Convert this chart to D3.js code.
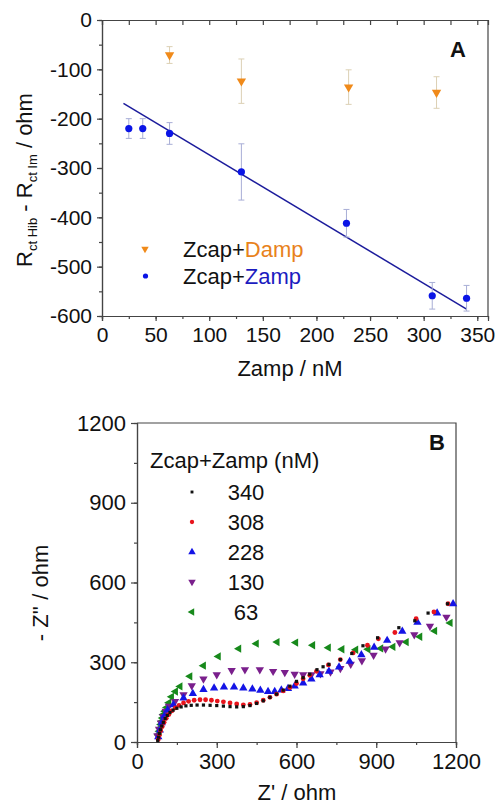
<!DOCTYPE html>
<html>
<head>
<meta charset="utf-8">
<script src="https://cdn.jsdelivr.net/npm/d3@7"></script>
<style>
body { margin: 0; background: #fff; }
text { font-family: "Liberation Sans", Arial, sans-serif; fill: #111; }
</style>
</head>
<body>
<svg width="496" height="804"></svg>
<script>
// ---- panel A data ----
var zampX = [25, 38, 63, 130, 228, 308, 340];
var zampR = [-220, -220, -230, -308, -412, -559, -564];
var zampErr = [20, 20, 22, 57, 28, 27, 26];
var dampX = [63, 130, 230, 312];
var dampR = [-71, -124, -136, -147];
var dampErr = [17, 45, 35, 32];
var fitX = [20, 340];
var fitY = [-169, -586];
var ticksAx = [0, 50, 100, 150, 200, 250, 300, 350];
var ticksAy = [0, -100, -200, -300, -400, -500, -600];

// ---- panel B data (Nyquist) ----
var conc = ["340", "308", "228", "130", "63"];
var z340re = [78, 81, 84, 88, 93, 99, 106, 114, 124, 136, 150, 166, 184, 204, 226, 250, 275, 300, 325, 350, 375, 400, 425, 450, 475, 500, 525, 550, 575, 600, 625, 650, 677, 700, 722, 765, 808, 850, 905, 985, 1045, 1095, 1168];
var z340im = [5, 18, 32, 46, 60, 74, 88, 100, 111, 120, 127, 132, 136, 138, 139, 139, 138, 137, 135, 133, 132, 133, 137, 145, 155, 168, 180, 195, 210, 228, 242, 255, 272, 283, 292, 310, 333, 362, 392, 430, 456, 485, 520];
var z308re = [80, 84, 89, 95, 102, 110, 120, 131, 144, 158, 175, 194, 215, 237, 258, 280, 302, 325, 350, 375, 400, 425, 450, 475, 500, 525, 550, 575, 600, 625, 650, 675, 720, 765, 813, 867, 908, 970, 1050, 1117, 1170];
var z308im = [9, 25, 42, 58, 74, 89, 103, 117, 128, 138, 147, 153, 157, 159, 159, 157, 154, 151, 147, 143, 140, 141, 148, 157, 168, 180, 192, 205, 220, 238, 251, 266, 290, 310, 335, 364, 388, 412, 464, 489, 520];
var z228re = [80, 86, 93, 102, 115, 137, 175, 210, 250, 290, 327, 365, 400, 434, 464, 493, 518, 543, 568, 593, 625, 656, 687, 722, 760, 800, 844, 892, 941, 998, 1055, 1129, 1189];
var z228im = [19, 45, 72, 97, 120, 140, 165, 182, 197, 203, 207, 207, 203, 199, 194, 190, 190, 195, 201, 210, 222, 237, 253, 266, 282, 303, 328, 356, 382, 416, 450, 485, 520];
var z130re = [77, 83, 90, 98, 108, 120, 143, 175, 206, 250, 300, 356, 406, 462, 512, 556, 593, 625, 656, 690, 728, 765, 804, 846, 890, 935, 988, 1043, 1102, 1164];
var z130im = [24, 48, 72, 95, 116, 135, 153, 178, 212, 237, 253, 269, 272, 272, 266, 262, 255, 253, 253, 257, 264, 277, 293, 306, 327, 350, 374, 404, 436, 470];
var z63re = [80, 84, 87, 90, 93, 96, 99, 105, 112, 120, 130, 145, 162, 199, 250, 306, 383, 449, 527, 597, 661, 720, 771, 823, 869, 917, 963, 1013, 1064, 1120, 1178];
var z63im = [27, 40, 53, 66, 78, 90, 103, 116, 130, 148, 170, 190, 209, 247, 287, 322, 351, 370, 376, 374, 364, 355, 349, 347, 349, 352, 358, 376, 396, 418, 448];
var ticksB = [0, 300, 600, 900, 1200];

var svg = d3.select("svg");
var axisColor = "#444";
var plain = function (d) { return String(d); };  // keep plain hyphen, no thousands comma

//style an axis group
function styleAxis(g) {
	g.selectAll("path, line").attr("stroke", axisColor).attr("stroke-width", 1.2);
	g.selectAll("text").style("font-size", "21px").attr("fill", "#111");
}

///////////////// PANEL A /////////////////
var xA = d3.scaleLinear().domain([0, 360]).range([102, 488]);
var yA = d3.scaleLinear().domain([-600, 0]).range([316, 20]);

var gA = svg.append("g");

//minor ticks first
gA.append("g").attr("transform", "translate(0,316)")
	.call(d3.axisBottom(xA).tickValues(d3.range(0, 361, 25)).tickSize(3).tickFormat(""))
	.call(styleAxis);
gA.append("g").attr("transform", "translate(102,0)")
	.call(d3.axisLeft(yA).tickValues(d3.range(-600, 1, 50)).tickSize(3).tickFormat(""))
	.call(styleAxis);

gA.append("g").attr("transform", "translate(0,316)")
	.call(d3.axisBottom(xA).tickValues(ticksAx).tickSize(5).tickPadding(6).tickFormat(plain))
	.call(styleAxis);
gA.append("g").attr("transform", "translate(102,0)")
	.call(d3.axisLeft(yA).tickValues(ticksAy).tickSize(5).tickPadding(5).tickFormat(plain))
	.call(styleAxis);
//top axis, ticks pointing inward
gA.append("g").attr("transform", "translate(0,20)")
	.call(d3.axisBottom(xA).tickValues(d3.range(0, 361, 25)).tickSize(5).tickFormat(""))
	.call(styleAxis);
gA.append("line").attr("x1", 488).attr("x2", 488).attr("y1", 20).attr("y2", 316)
	.attr("stroke", axisColor).attr("stroke-width", 1.2);

//fit line
gA.append("line")
	.attr("x1", xA(fitX[0])).attr("y1", yA(fitY[0]))
	.attr("x2", xA(fitX[1])).attr("y2", yA(fitY[1]))
	.attr("stroke", "#1c1c9c").attr("stroke-width", 1.5);

//error bars
function errBars(xs, ys, es, col) {
	var g = gA.append("g").attr("stroke", col).attr("stroke-width", 1);
	xs.forEach(function (x, i) {
		var px = xA(x), y1 = yA(ys[i] + es[i]), y2 = yA(ys[i] - es[i]);
		g.append("line").attr("x1", px).attr("x2", px).attr("y1", y1).attr("y2", y2);
		g.append("line").attr("x1", px - 3).attr("x2", px + 3).attr("y1", y1).attr("y2", y1);
		g.append("line").attr("x1", px - 3).attr("x2", px + 3).attr("y1", y2).attr("y2", y2);
	});
}
errBars(dampX, dampR, dampErr, "#dcd0b4");
errBars(zampX, zampR, zampErr, "#a8aed6");

var triDown = d3.symbol().type(d3.symbolTriangle).size(38);
gA.selectAll(".damp").data(dampX).enter().append("path")
	.attr("d", triDown)
	.attr("transform", function (d, i) { return "translate(" + xA(d) + "," + yA(dampR[i]) + ") rotate(180)"; })
	.attr("fill", "#f08a1a");

gA.selectAll(".zamp").data(zampX).enter().append("circle")
	.attr("cx", function (d) { return xA(d); })
	.attr("cy", function (d, i) { return yA(zampR[i]); })
	.attr("r", 3.6)
	.attr("fill", "#0a14e6");

//legend A
gA.append("path").attr("d", d3.symbol().type(d3.symbolTriangle).size(24))
	.attr("transform", "translate(145,249) rotate(180)").attr("fill", "#f08a1a");
gA.append("circle").attr("cx", 145.5).attr("cy", 276).attr("r", 2.6).attr("fill", "#0a14e6");
var l1 = gA.append("text").attr("x", 183).attr("y", 257).style("font-size", "22px");
l1.append("tspan").text("Zcap+");
l1.append("tspan").style("fill", "#e8821c").text("Damp");
var l2 = gA.append("text").attr("x", 183).attr("y", 284).style("font-size", "22px");
l2.append("tspan").text("Zcap+");
l2.append("tspan").style("fill", "#1c1cc0").text("Zamp");

gA.append("text").attr("x", 458).attr("y", 57).attr("text-anchor", "middle")
	.style("font-size", "22px").style("font-weight", "bold").text("A");

gA.append("text").attr("x", 290).attr("y", 376).attr("text-anchor", "middle")
	.style("font-size", "22px").text("Zamp / nM");

var yl = gA.append("text").attr("transform", "translate(32,180) rotate(-90)")
	.attr("text-anchor", "middle").style("font-size", "22px");
yl.append("tspan").text("R");
yl.append("tspan").attr("dy", 5).style("font-size", "13px").text("ct Hib");
yl.append("tspan").attr("dy", -5).text(" - R");
yl.append("tspan").attr("dy", 5).style("font-size", "13px").text("ct Im");
yl.append("tspan").attr("dy", -5).text("   /  ohm");

///////////////// PANEL B /////////////////
var xB = d3.scaleLinear().domain([0, 1200]).range([137, 456]);
var yB = d3.scaleLinear().domain([0, 1200]).range([742, 423]);
var gB = svg.append("g");

gB.append("g").attr("transform", "translate(0,742)")
	.call(d3.axisBottom(xB).tickValues(d3.range(0, 1201, 150)).tickSize(3).tickFormat(""))
	.call(styleAxis);
gB.append("g").attr("transform", "translate(137,0)")
	.call(d3.axisLeft(yB).tickValues(d3.range(0, 1201, 150)).tickSize(3).tickFormat(""))
	.call(styleAxis);
gB.append("g").attr("transform", "translate(0,742)")
	.call(d3.axisBottom(xB).tickValues(ticksB).tickSize(6).tickPadding(5).tickFormat(plain))
	.call(styleAxis)
	.selectAll("text").style("font-size", "22px");
gB.append("g").attr("transform", "translate(137,0)")
	.call(d3.axisLeft(yB).tickValues(ticksB).tickSize(6).tickPadding(5).tickFormat(plain))
	.call(styleAxis)
	.selectAll("text").style("font-size", "22px");
gB.append("path").attr("d", "M137,423H456V742")
	.attr("fill", "none").attr("stroke", axisColor).attr("stroke-width", 1.2);

var series = [
	{ re: z340re, im: z340im, col: "#111", shape: "square" },
	{ re: z308re, im: z308im, col: "#e8141c", shape: "circle" },
	{ re: z228re, im: z228im, col: "#1414e6", shape: "up" },
	{ re: z130re, im: z130im, col: "#7a1f8c", shape: "down" },
	{ re: z63re, im: z63im, col: "#17891b", shape: "left" }
];

function drawMark(g, s, x, y, scale) {
	var k = scale || 1;
	if (s.shape == "square") {
		g.append("rect").attr("x", x - 1.6 * k).attr("y", y - 1.6 * k)
			.attr("width", 3.2 * k).attr("height", 3.2 * k).attr("fill", s.col);
	} else if (s.shape == "circle") {
		g.append("circle").attr("cx", x).attr("cy", y).attr("r", 2.4 * k).attr("fill", s.col);
	} else {
		var rot = { up: 0, down: 180, left: -90 }[s.shape];
		g.append("path").attr("d", d3.symbol().type(d3.symbolTriangle).size(30 * k * k))
			.attr("transform", "translate(" + x + "," + y + ") rotate(" + rot + ")")
			.attr("fill", s.col);
	}
}

//draw from last series to first so black sits on top
for (var si = series.length - 1; si >= 0; si--) {
	var s = series[si];
	var gs = gB.append("g");
	s.re.forEach(function (r, i) {
		drawMark(gs, s, xB(r), yB(s.im[i]));
	});
}

//legend B
gB.append("text").attr("x", 150).attr("y", 468).style("font-size", "22px").text("Zcap+Zamp (nM)");
series.forEach(function (s, i) {
	var y = 492 + i * 30;
	drawMark(gB, s, 192, y, 0.9);
	gB.append("text").attr("x", 246).attr("y", y + 8).attr("text-anchor", "middle")
		.style("font-size", "22px").text(conc[i]);
});

gB.append("text").attr("x", 437).attr("y", 450).attr("text-anchor", "middle")
	.style("font-size", "22px").style("font-weight", "bold").text("B");

gB.append("text").attr("x", 297).attr("y", 800).attr("text-anchor", "middle")
	.style("font-size", "22px").text("Z' / ohm");
gB.append("text").attr("transform", "translate(48,593) rotate(-90)")
	.attr("text-anchor", "middle").style("font-size", "22px").text("- Z'' / ohm");
</script>
</body>
</html>
